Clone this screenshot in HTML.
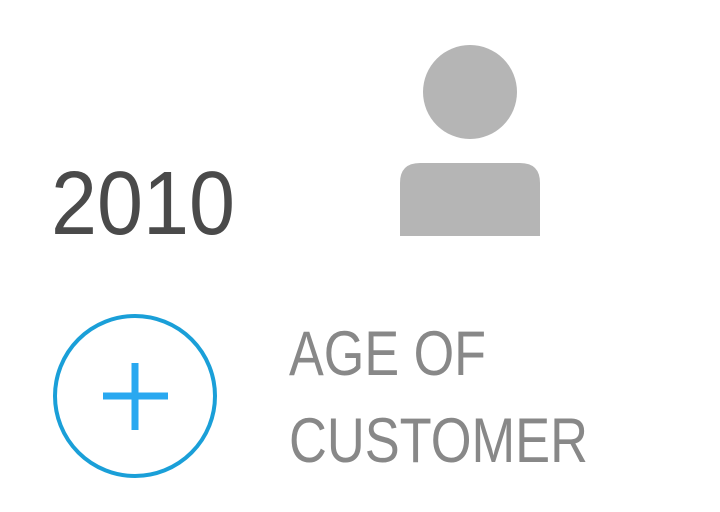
<!DOCTYPE html>
<html>
<head>
<meta charset="utf-8">
<style>
  html, body { margin: 0; padding: 0; background: #ffffff; }
  svg { display: block; }
  text { font-family: "Liberation Sans", sans-serif; }
</style>
</head>
<body>
<svg width="720" height="512" viewBox="0 0 720 512" xmlns="http://www.w3.org/2000/svg">
  <rect x="0" y="0" width="720" height="512" fill="#ffffff"/>
  <text x="51" y="234" font-size="90" fill="#4a4a4a" textLength="184" lengthAdjust="spacingAndGlyphs">2010</text>
  <g fill="#b5b5b5">
    <circle cx="470" cy="92" r="47"/>
    <path d="M400,236 L400,183 Q400,163 420,163 L520,163 Q540,163 540,183 L540,236 Z"/>
  </g>
  <g>
    <circle cx="135" cy="396" r="80" fill="none" stroke="#1a9fd8" stroke-width="4"/>
    <rect x="103" y="392.5" width="65" height="7" fill="#29a8f0"/>
    <rect x="131.5" y="363" width="7" height="67" fill="#29a8f0"/>
  </g>
  <text x="289" y="375" font-size="63" fill="#888888" textLength="197" lengthAdjust="spacingAndGlyphs">AGE OF</text>
  <text x="289" y="462" font-size="63" fill="#888888" textLength="299" lengthAdjust="spacingAndGlyphs">CUSTOMER</text>
</svg>
</body>
</html>
